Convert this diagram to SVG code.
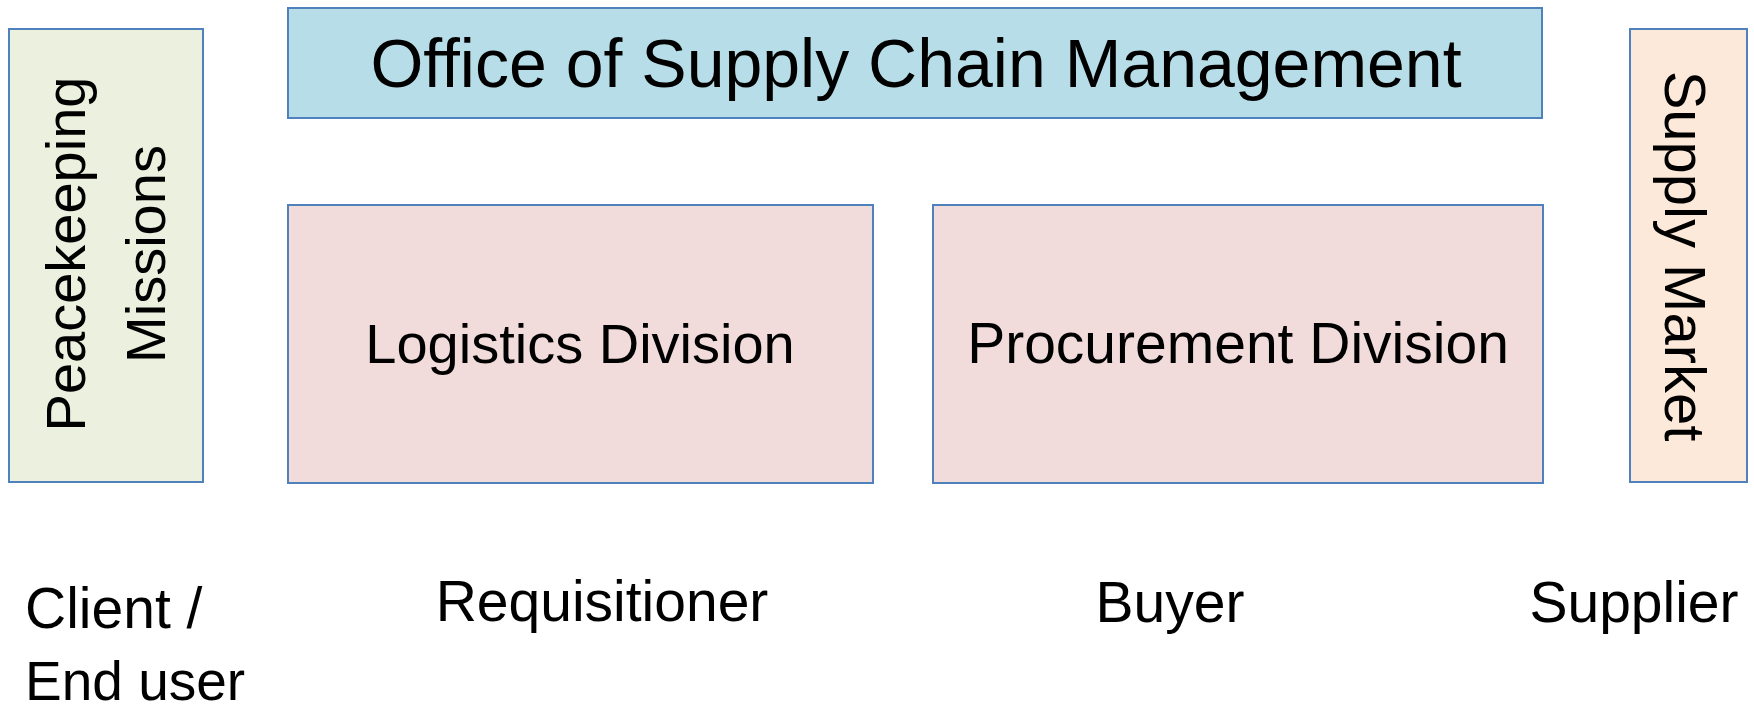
<svg xmlns="http://www.w3.org/2000/svg" width="1754" height="710" viewBox="0 0 1754 710">
<style>
.box{stroke:#4F81BD;stroke-width:2}
text{font-family:"Liberation Sans",Arial,sans-serif;fill:#000}
.m{text-anchor:middle}
</style>
<rect width="1754" height="710" fill="#fff"/>
<g id="peacekeeping">
<rect class="box" x="9" y="29" width="194" height="453" fill="#EBF1DE"/>
<text class="m" font-size="56" transform="translate(85,254) rotate(-90)">Peacekeeping</text>
<text class="m" font-size="56" transform="translate(165,254) rotate(-90)">Missions</text>
</g>
<g id="oscm">
<rect class="box" x="288" y="8" width="1254" height="110" fill="#B7DEE8"/>
<text class="m" x="916" y="87" font-size="68">Office of Supply Chain Management</text>
</g>
<g id="logistics">
<rect class="box" x="288" y="205" width="585" height="278" fill="#F2DCDB"/>
<text class="m" x="580" y="363" font-size="56">Logistics Division</text>
</g>
<g id="procurement">
<rect class="box" x="933" y="205" width="610" height="278" fill="#F2DCDB"/>
<text class="m" x="1238" y="363" font-size="57">Procurement Division</text>
</g>
<g id="supply-market">
<rect class="box" x="1630" y="29" width="117" height="453" fill="#FDE9D9"/>
<text class="m" font-size="58" transform="translate(1665,256) rotate(90)">Supply Market</text>
</g>
<g id="labels">
<text x="25" y="628" font-size="57">Client /</text>
<text x="25" y="700" font-size="55">End user</text>
<text class="m" x="602" y="621" font-size="57">Requisitioner</text>
<text class="m" x="1170" y="622" font-size="57">Buyer</text>
<text class="m" x="1634" y="622" font-size="57">Supplier</text>
</g>
<g id="connectors"></g>
</svg>
